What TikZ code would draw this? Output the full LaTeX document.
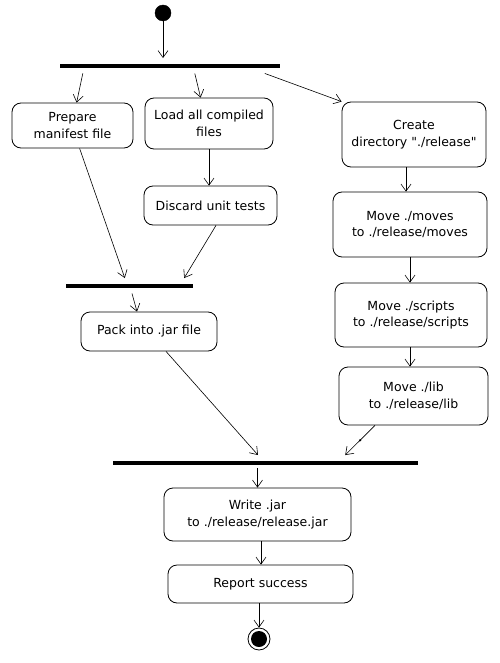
\documentclass[tikz,border=0pt]{standalone}
\usepackage{fontspec}
\setmainfont{DejaVu Sans}
\usetikzlibrary{arrows.meta}
\newcommand\dq{\XeTeXglyph\XeTeXcharglyph"22\relax}
\begin{document}
\begin{tikzpicture}[x=1pt, y=-1pt,
  act/.style={draw, line width=0.8pt, rounded corners=9pt, align=center, inner sep=0pt,
              font=\fontsize{12.5}{16.5}\selectfont},
  bar/.style={fill=black, inner sep=0pt, minimum height=3.5pt},
  arr/.style={-{Straight Barb[length=7pt,width=10pt]}, line width=0.6pt},
  dot/.style={circle, fill=black, inner sep=0pt, minimum size=2.5pt}]
\useasboundingbox (0,0) rectangle (499,663);

%% start and end
\node[circle, fill=black, draw, minimum size=16pt, inner sep=0pt] (start) at (163,13) {};
\node[circle, draw, line width=0.8pt, minimum size=22pt, inner sep=0pt] (finish) at (259,639) {};
\fill (finish) circle (8pt);

%% bars
\node[bar, minimum width=220pt] (fork) at (170,66) {};
\node[bar, minimum width=127pt] (joinjar) at (129.5,286) {};
\node[bar, minimum width=305pt] (joinall) at (265.5,463) {};

%% activities
\node[act, minimum width=121pt, minimum height=45pt] (manifest) at (72.5,125.5) {Prepare\\manifest file};
\node[act, minimum width=128pt, minimum height=51pt] (load) at (209,123.5) {Load all compiled\\files};
\node[act, minimum width=133pt, minimum height=39pt] (discard) at (210.5,205.5) {Discard unit tests};
\node[act, minimum width=136pt, minimum height=39pt] (pack) at (149,331.5) {Pack into .jar file};
\node[act, minimum width=144pt, minimum height=65pt] (mkdir) at (414,134.5) {Create\\directory \dq./release\dq};
\node[act, minimum width=154pt, minimum height=65pt] (moves) at (410,224.5) {Move ./moves\\to ./release/moves};
\node[act, minimum width=152pt, minimum height=64pt] (scripts) at (411,315) {Move ./scripts\\to ./release/scripts};
\node[act, minimum width=149pt, minimum height=58pt] (lib) at (413.5,396) {Move ./lib\\to ./release/lib};
\node[act, minimum width=187pt, minimum height=53pt] (write) at (257.5,514.5) {Write .jar\\to ./release/release.jar};
\node[act, minimum width=185pt, minimum height=38pt] (report) at (260.5,584) {Report success};

%%% edges
\draw[arr, shorten >=6pt] (start.south) -- (start.south |- fork.north);     %% start-fork
\draw[arr] ([xshift=23pt,yshift=-5.5pt]fork.south west) -- ([xshift=65pt]manifest.north west);     %% fork-manifest
\draw[arr] ([xshift=135pt,yshift=-5.5pt]fork.south west) -- ([xshift=56pt]load.north west);     %% fork-load
\draw[arr] ([xshift=205pt,yshift=-5.5pt]fork.south west) -- (mkdir.north west);     %% fork-mkdir
\draw[arr] (load.south) -- (load.south |- discard.north);     %% load-discard
\draw[arr] ([xshift=68pt]manifest.south west) -- ([xshift=59pt,yshift=6pt]joinjar.north west);     %% manifest-joinjar
\draw[arr] ([xshift=5.5pt]discard.south) -- ([xshift=-9pt,yshift=6pt]joinjar.north east);     %% discard-joinjar
\draw[arr] ([xshift=2.5pt,yshift=-5.5pt]joinjar.south) -- ([xshift=-12pt]pack.north);     %% joinjar-pack
\draw[arr] ([xshift=-8pt]mkdir.south) -- ([xshift=-8pt]mkdir.south |- moves.north);     %% mkdir-moves
\draw[arr] (moves.south) -- (moves.south |- scripts.north);     %% moves-scripts
\draw[arr] ([xshift=-1pt]scripts.south) -- ([xshift=-1pt]scripts.south |- lib.north);     %% scripts-lib
\draw[arr] ([xshift=17pt]pack.south) -- ([xshift=-7.5pt,yshift=6pt]joinall.north);     %% pack-joinall
\draw[arr] ([xshift=-38.5pt]lib.south) -- node[dot] (bend) {} ([xshift=-73pt,yshift=6pt]joinall.north east);     %% lib-joinall
\draw[arr] ([xshift=-8pt,yshift=-3.5pt]joinall.south) -- (write.north);     %% joinall-write
\draw[arr] ([xshift=3.5pt]write.south) -- ([xshift=3.5pt]write.south |- report.north);     %% write-report
\draw[arr] ([xshift=-1.5pt]report.south) -- (finish.north);     %% report-finish
\end{tikzpicture}
\end{document}
